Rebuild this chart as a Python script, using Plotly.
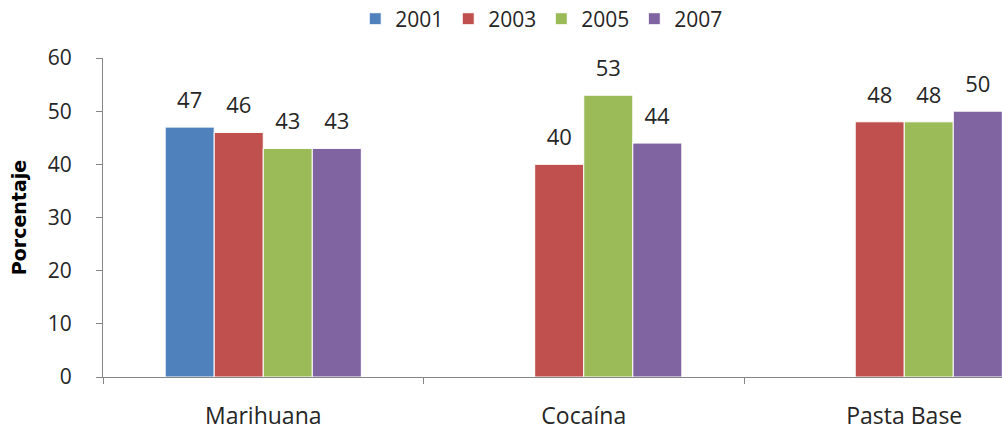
import plotly.graph_objects as go

# Categories and yearly percentages
drogas = ["Marihuana", "Cocaína", "Pasta Base"]
anios = ["2001", "2003", "2005", "2007"]
valores_2001 = [47, None, None]
valores_2003 = [46, 40, 48]
valores_2005 = [43, 53, 48]
valores_2007 = [43, 44, 50]
series = [valores_2001, valores_2003, valores_2005, valores_2007]
colores = ["#4F81BD", "#C0504D", "#9BBB59", "#8064A2"]

FONT = "Open Sans, Lato, DejaVu Sans, sans-serif"
TXT = "#262626"

fig = go.Figure()
for anio, vals, col in zip(anios, series, colores):
    fig.add_trace(go.Bar(
        name=anio,
        x=drogas,
        y=vals,
        marker=dict(color=col, line=dict(color="white", width=1)),
        # value label with a transparent spacer line below it, lifting the number off the bar
        texttemplate="<span style='font-size:22px'>%{y}</span><br><span style='color:rgba(0,0,0,0)'>.</span>",
        textposition="outside",
        textfont=dict(family=FONT, size=10, color=TXT),
        cliponaxis=False,
    ))

fig.update_layout(
    width=1002,
    height=430,
    margin=dict(l=103, r=0, t=58, b=53, autoexpand=False),
    paper_bgcolor="white",
    plot_bgcolor="white",
    barmode="group",
    bargap=0.388,
    bargroupgap=0,
    font=dict(family=FONT, size=21, color=TXT),
    showlegend=True,
    legend=dict(
        orientation="h",
        x=0.488, xanchor="center",
        y=1.122, yanchor="middle",
        font=dict(family=FONT, size=21, color=TXT),
        itemwidth=30,
        tracegroupgap=0,
    ),
)

fig.update_xaxes(
    type="category",
    categoryorder="array",
    categoryarray=drogas,
    range=[-0.5, 2.305],
    tickson="boundaries",
    ticks="outside",
    ticklen=6,
    tickcolor="#868686",
    showline=True,
    linecolor="#868686",
    linewidth=1,
    showgrid=False,
    zeroline=False,
    tickfont=dict(family=FONT, size=23, color=TXT),
    ticklabelstandoff=18,
)

fig.update_yaxes(
    range=[0, 60],
    tickvals=[0, 10, 20, 30, 40, 50, 60],
    ticks="outside",
    ticklen=6,
    tickcolor="#868686",
    showline=True,
    linecolor="#868686",
    linewidth=1,
    showgrid=False,
    zeroline=False,
    tickfont=dict(family=FONT, size=21, color=TXT),
    ticklabelstandoff=20,
    title=dict(
        text="<b>Porcentaje</b>",
        font=dict(family="DejaVu Sans", size=19, color="#000000"),
        standoff=16,
    ),
)

fig.write_html("out.html")
